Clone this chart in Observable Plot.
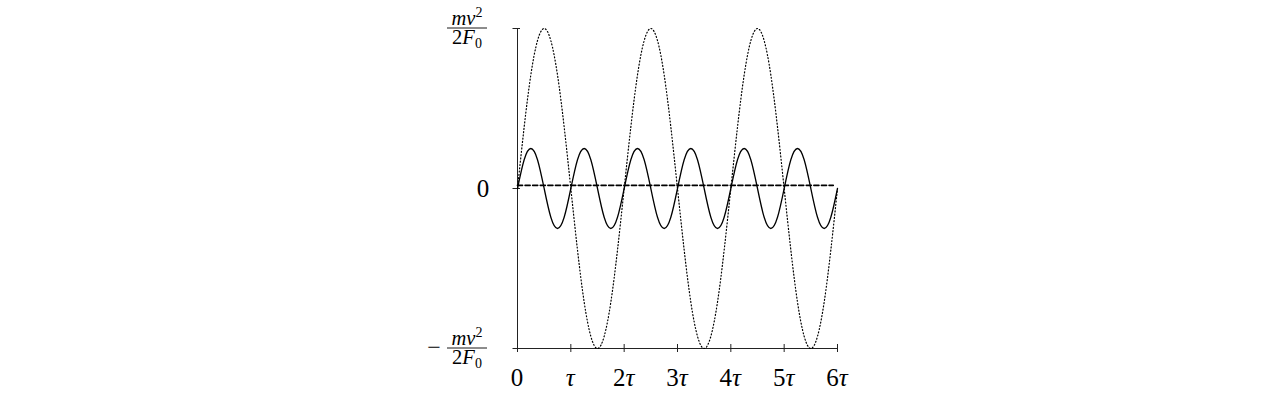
<!DOCTYPE html>
<html><head><meta charset="utf-8">
<script src="https://cdn.jsdelivr.net/npm/d3@7"></script>
<script src="https://cdn.jsdelivr.net/npm/@observablehq/plot@0.6"></script>
<style>body{margin:0;background:#fff} svg{display:block}</style>
</head><body><div id="chart"></div>
<script>
// ---- data (time in units of tau, displacement in units of mv^2/2F0) ----
const xTicks = [0, 1, 2, 3, 4, 5, 6];
const xTickCoef = ["0", "", "2", "3", "4", "5", "6"];
const xTickSym  = ["", "τ", "τ", "τ", "τ", "τ", "τ"];
const yTicks = [-1, 0, 1];

const solidT = [
  0, 0.125, 0.25, 0.375, 0.5, 0.625, 0.75, 0.875,
  1, 1.125, 1.25, 1.375, 1.5, 1.625, 1.75, 1.875,
  2, 2.125, 2.25, 2.375, 2.5, 2.625, 2.75, 2.875,
  3, 3.125, 3.25, 3.375, 3.5, 3.625, 3.75, 3.875,
  4, 4.125, 4.25, 4.375, 4.5, 4.625, 4.75, 4.875,
  5, 5.125, 5.25, 5.375, 5.5, 5.625, 5.75, 5.875,
  6];
const solidY = [
  0, 0.18, 0.25, 0.18, 0, -0.18, -0.25, -0.18,
  0, 0.18, 0.25, 0.18, 0, -0.18, -0.25, -0.18,
  0, 0.18, 0.25, 0.18, 0, -0.18, -0.25, -0.18,
  0, 0.18, 0.25, 0.18, 0, -0.18, -0.25, -0.18,
  0, 0.18, 0.25, 0.18, 0, -0.18, -0.25, -0.18,
  0, 0.18, 0.25, 0.18, 0, -0.18, -0.25, -0.18,
  0];

const dottedT = [
  0, 0.25, 0.5, 0.75, 1, 1.25, 1.5, 1.75,
  2, 2.25, 2.5, 2.75, 3, 3.25, 3.5, 3.75,
  4, 4.25, 4.5, 4.75, 5, 5.25, 5.5, 5.75,
  6];
const dottedY = [
  0, 0.71, 1, 0.71, 0, -0.71, -1, -0.71,
  0, 0.71, 1, 0.71, 0, -0.71, -1, -0.71,
  0, 0.71, 1, 0.71, 0, -0.71, -1, -0.71,
  0];

const dashT = [0, 5.92];
const dashY = [0.02, 0.02];

// ---- build tables ----
const solid = solidT.map((t, i) => ({t, v: solidY[i]}));
const dotted = dottedT.map((t, i) => ({t, v: dottedY[i]}));
const dashed = dashT.map((t, i) => ({t, v: dashY[i]}));

const chart = Plot.plot({
  width: 1277, height: 416,
  marginLeft: 517, marginRight: 440, marginTop: 28, marginBottom: 68,
  x: {domain: [0, 6], axis: null},
  y: {domain: [-1, 1], axis: null},
  style: {background: "#fff"},
  marks: [
    Plot.ruleX([0], {y1: -1, y2: 1, stroke: "#222", strokeWidth: 1}),
    Plot.ruleY([-1], {x1: 0, x2: 6, stroke: "#222", strokeWidth: 1}),
    Plot.ruleX(xTicks, {x: d => d, y1: -1, y2: -1, insetTop: -4, insetBottom: -4, stroke: "#222", strokeWidth: 1}),
    Plot.ruleY(yTicks, {y: d => d, x1: 0, x2: 0, insetLeft: -4.5, insetRight: -3, stroke: "#222", strokeWidth: 1}),
    Plot.line(dotted, {x: "t", y: "v", curve: "natural", stroke: "#000", strokeWidth: 1.2, strokeDasharray: "1 2.3"}),
    Plot.line(dashed, {x: "t", y: "v", stroke: "#000", strokeWidth: 1.7, strokeDasharray: "5 2.6"}),
    Plot.line(solid, {x: "t", y: "v", curve: "natural", stroke: "#000", strokeWidth: 1.3})
  ]
});
document.getElementById("chart").appendChild(chart);

// ---- tick labels (typeset text) ----
const sx = chart.scale("x"), sy = chart.scale("y");
const svg = d3.select(chart);
const font = "'Liberation Serif', 'DejaVu Serif', serif";
const g = svg.append("g").attr("font-family", font).attr("fill", "#000");

const axisY = sy.apply(-1), axisX = sx.apply(0);
xTicks.forEach((t, i) => {
  const txt = g.append("text")
    .attr("x", sx.apply(t)).attr("y", axisY + 38)
    .attr("text-anchor", "middle").attr("font-size", 25);
  if (xTickCoef[i]) txt.append("tspan").text(xTickCoef[i]);
  if (xTickSym[i]) txt.append("tspan").attr("font-style", "italic").text(xTickSym[i]);
});

function fraction(cx, cy) {
  g.append("line").attr("x1", cx - 20).attr("x2", cx + 20)
    .attr("y1", cy).attr("y2", cy).attr("stroke", "#000").attr("stroke-width", 0.9);
  const num = g.append("text").attr("x", cx).attr("y", cy - 3.5)
    .attr("text-anchor", "middle").attr("font-size", 20.5);
  num.append("tspan").attr("font-style", "italic").text("mv");
  num.append("tspan").attr("font-size", 14).attr("dy", -8).text("2");
  const den = g.append("text").attr("x", cx).attr("y", cy + 16)
    .attr("text-anchor", "middle").attr("font-size", 20.5);
  den.append("tspan").text("2");
  den.append("tspan").attr("font-style", "italic").text("F");
  den.append("tspan").attr("font-size", 14).attr("dy", 3.5).text("0");
}

// top label
fraction(axisX - 50, sy.apply(yTicks[2]));
// zero label
g.append("text").attr("x", axisX - 34).attr("y", sy.apply(yTicks[1]) + 8.5)
  .attr("text-anchor", "middle").attr("font-size", 25).text("0");
// bottom label
g.append("text").attr("x", axisX - 83).attr("y", sy.apply(yTicks[0]) + 6.5)
  .attr("text-anchor", "middle").attr("font-size", 24).text("−");
fraction(axisX - 50, sy.apply(yTicks[0]));
</script>
</body></html>
